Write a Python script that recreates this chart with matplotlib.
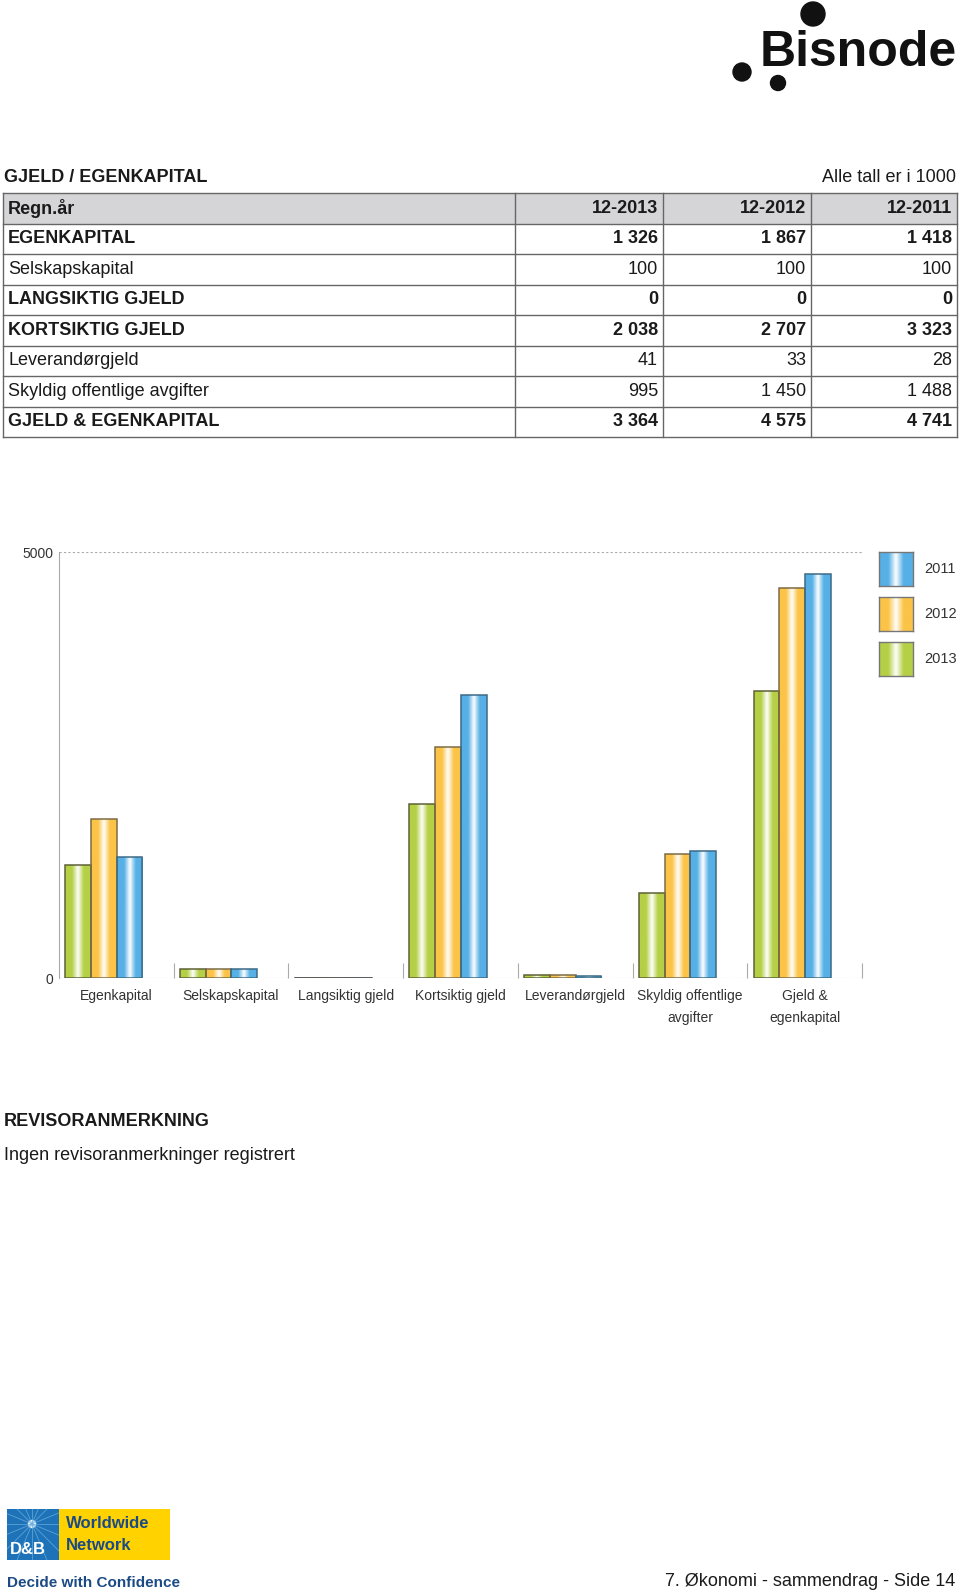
import numpy as np
import matplotlib
matplotlib.use("Agg")
import matplotlib.pyplot as plt
from matplotlib.colors import LinearSegmentedColormap
from matplotlib.patches import Rectangle, Circle

plt.rcParams["font.family"] = ["Liberation Sans", "DejaVu Sans"]

# Data
row_labels = ["EGENKAPITAL", "Selskapskapital", "LANGSIKTIG GJELD", "KORTSIKTIG GJELD",
              "Leverandørgjeld", "Skyldig offentlige avgifter", "GJELD & EGENKAPITAL"]
row_bold = [True, False, True, True, False, False, True]
col_labels = ["12-2013", "12-2012", "12-2011"]
v2013 = [1326, 100, 0, 2038, 41, 995, 3364]
v2012 = [1867, 100, 0, 2707, 33, 1450, 4575]
v2011 = [1418, 100, 0, 3323, 28, 1488, 4741]
categories = ["Egenkapital", "Selskapskapital", "Langsiktig gjeld", "Kortsiktig gjeld",
              "Leverandørgjeld", "Skyldig offentlige\navgifter", "Gjeld &\negenkapital"]
years = ["2013", "2012", "2011"]

W, H = 960, 1596
fig = plt.figure(figsize=(W / 100, H / 100), dpi=100)

# overlay axes in pixel units for page decorations
bg = fig.add_axes([0, 0, 1, 1])
bg.set_xlim(0, W)
bg.set_ylim(H, 0)
bg.axis("off")


def fx(x):
    return x / W


def fy(y):
    return 1 - y / H


def fmt(v):
    return f"{v:,}".replace(",", " ")


TXT = "#1a1a1a"
FS = 13

# Bisnode logo
bg.text(760, 66, "Bisnode", fontsize=36, fontweight="bold", color="#111111",
        va="baseline", ha="left")
for cx, cy, r in [(813, 14, 12), (742, 72, 9), (778, 83, 7.5)]:
    bg.add_patch(Circle((cx, cy), r, color="#111111"))

# Table
bg.text(4, 178, "GJELD / EGENKAPITAL", fontsize=FS, fontweight="bold",
        color=TXT, va="center")
bg.text(956, 178, "Alle tall er i 1000", fontsize=FS, color=TXT,
        va="center", ha="right")

top, rh = 193, 30.5
xs = [3, 515, 663, 811, 957]
n_rows = len(row_labels) + 1
bg.add_patch(Rectangle((3, top), 954, rh, facecolor="#d5d5d7", edgecolor="none"))
for i in range(n_rows + 1):
    y = top + i * rh
    bg.plot([3, 957], [y, y], color="#666666", lw=1)
for x in xs:
    bg.plot([x, x], [top, top + n_rows * rh], color="#666666", lw=1)

bg.text(8, top + rh / 2, "Regn.år", fontsize=FS, fontweight="bold",
        color=TXT, va="center")
for j, c in enumerate(col_labels):
    bg.text(xs[j + 2] - 5, top + rh / 2, c, fontsize=FS, fontweight="bold",
            color=TXT, va="center", ha="right")
for i, lab in enumerate(row_labels):
    yc = top + (i + 1.5) * rh
    w = "bold" if row_bold[i] else "normal"
    bg.text(8, yc, lab, fontsize=FS, fontweight=w, color=TXT, va="center")
    for j, vals in enumerate([v2013, v2012, v2011]):
        bg.text(xs[j + 2] - 5, yc, fmt(vals[i]), fontsize=FS, fontweight=w,
                color=TXT, va="center", ha="right")

# Chart
ax_l, ax_r, ax_t, ax_b = 59, 862, 552, 978
ax = fig.add_axes([fx(ax_l), fy(ax_b), (ax_r - ax_l) / W, (ax_b - ax_t) / H])
ax.patch.set_alpha(0)

colors = ["#b5d046", "#fbc448", "#56b0e6"]
edges = ["#5e6135", "#7d6c45", "#3c6a86"]
cmaps = [LinearSegmentedColormap.from_list("g" + str(k), [c, c, "#ffffff", c, c],
                                           N=256) for k, c in enumerate(colors)]
grad = np.linspace(0, 1, 256).reshape(1, -1)
grad = np.clip((grad - 0.05) / 0.9, 0, 1)

bw = 0.224
off = 0.055
x = np.arange(len(categories))
for k, vals in enumerate([v2013, v2012, v2011]):
    bars = ax.bar(x + off + k * bw, vals, width=bw, align="edge", facecolor="none",
                  edgecolor=edges[k], linewidth=1.1, zorder=3)
    for b in bars:
        if b.get_height() <= 0:
            ax.plot([b.get_x(), b.get_x() + b.get_width()], [0, 0], color="#555555",
                    lw=1.2, zorder=4)
            continue
        im = ax.imshow(grad, cmap=cmaps[k], aspect="auto", interpolation="bicubic",
                       extent=[b.get_x(), b.get_x() + b.get_width(), 0, b.get_height()],
                       zorder=2)
        im.set_clip_path(b)

ax.set_xlim(0, len(categories))
ax.set_ylim(0, 5000)
ax.axhline(5000, color="#aaaaaa", lw=0.8, ls=(0, (2, 2)), zorder=1)
ax.axhline(0, color="#aaaaaa", lw=0.8, ls=(0, (2, 2)), zorder=1)
for s in ["top", "right", "bottom"]:
    ax.spines[s].set_visible(False)
ax.spines["left"].set_color("#aaaaaa")
ax.spines["left"].set_linewidth(0.8)
ax.set_yticks([0, 5000])
ax.set_yticklabels(["0", "5000"])
ax.tick_params(axis="y", length=0, pad=4, labelsize=10, labelcolor="#333333")
ax.set_xticks(np.arange(1, len(categories) + 1))
ax.set_xticklabels([])
ax.tick_params(axis="x", which="major", direction="in", length=11, color="#aaaaaa",
               width=0.8)
ax.set_xticks(x + 0.5, minor=True)
ax.set_xticklabels(categories, minor=True)
ax.tick_params(axis="x", which="minor", length=0, pad=8, labelsize=10,
               labelcolor="#333333")
for t in ax.get_xticklabels(minor=True):
    t.set_linespacing(1.75)

# Legend
leg_items = [(2, 552), (1, 597), (0, 642)]
for k, y0 in leg_items:
    lax = fig.add_axes([fx(879), fy(y0 + 34), 34 / W, 34 / H])
    lax.imshow(grad, cmap=cmaps[k], aspect="auto", interpolation="bicubic",
               extent=[0, 1, 0, 1])
    lax.set_xticks([])
    lax.set_yticks([])
    for s in lax.spines.values():
        s.set_color("#777777")
        s.set_linewidth(1)
    fig.text(fx(924), fy(y0 + 17), years[k], fontsize=10.5, color="#333333", va="center")

# Revisor
fig.text(fx(4), fy(1121), "REVISORANMERKNING", fontsize=FS, fontweight="bold",
         color=TXT, va="center")
fig.text(fx(4), fy(1156), "Ingen revisoranmerkninger registrert", fontsize=FS,
         color=TXT, va="center")

# Footer logo
blue_box = Rectangle((7, 1509), 52, 51, facecolor="#1e73b8", edgecolor="none")
bg.add_patch(blue_box)
bg.add_patch(Rectangle((59, 1509), 111, 51, facecolor="#ffd200", edgecolor="none"))
for ang in np.linspace(0, 2 * np.pi, 16, endpoint=False):
    ray, = bg.plot([32, 32 + 40 * np.cos(ang)], [1524, 1524 + 40 * np.sin(ang)],
                   color="#6aaee0", lw=0.6, alpha=0.8)
    ray.set_clip_path(blue_box)
bg.add_patch(Circle((32, 1524), 3.5, color="white"))
bg.text(10, 1550, "D&B", fontsize=12, fontweight="bold", color="white",
        va="center")
bg.text(66, 1524, "Worldwide", fontsize=12, fontweight="bold", color="#1b4a85",
        va="center")
bg.text(66, 1546, "Network", fontsize=12, fontweight="bold", color="#1b4a85",
        va="center")
bg.text(7, 1583, "Decide with Confidence", fontsize=11, fontweight="bold",
        color="#1b4a85", va="center")
bg.text(955, 1582, "7. Økonomi - sammendrag - Side 14", fontsize=FS,
        color=TXT, va="center", ha="right")

fig.savefig("out.png", dpi=100)
